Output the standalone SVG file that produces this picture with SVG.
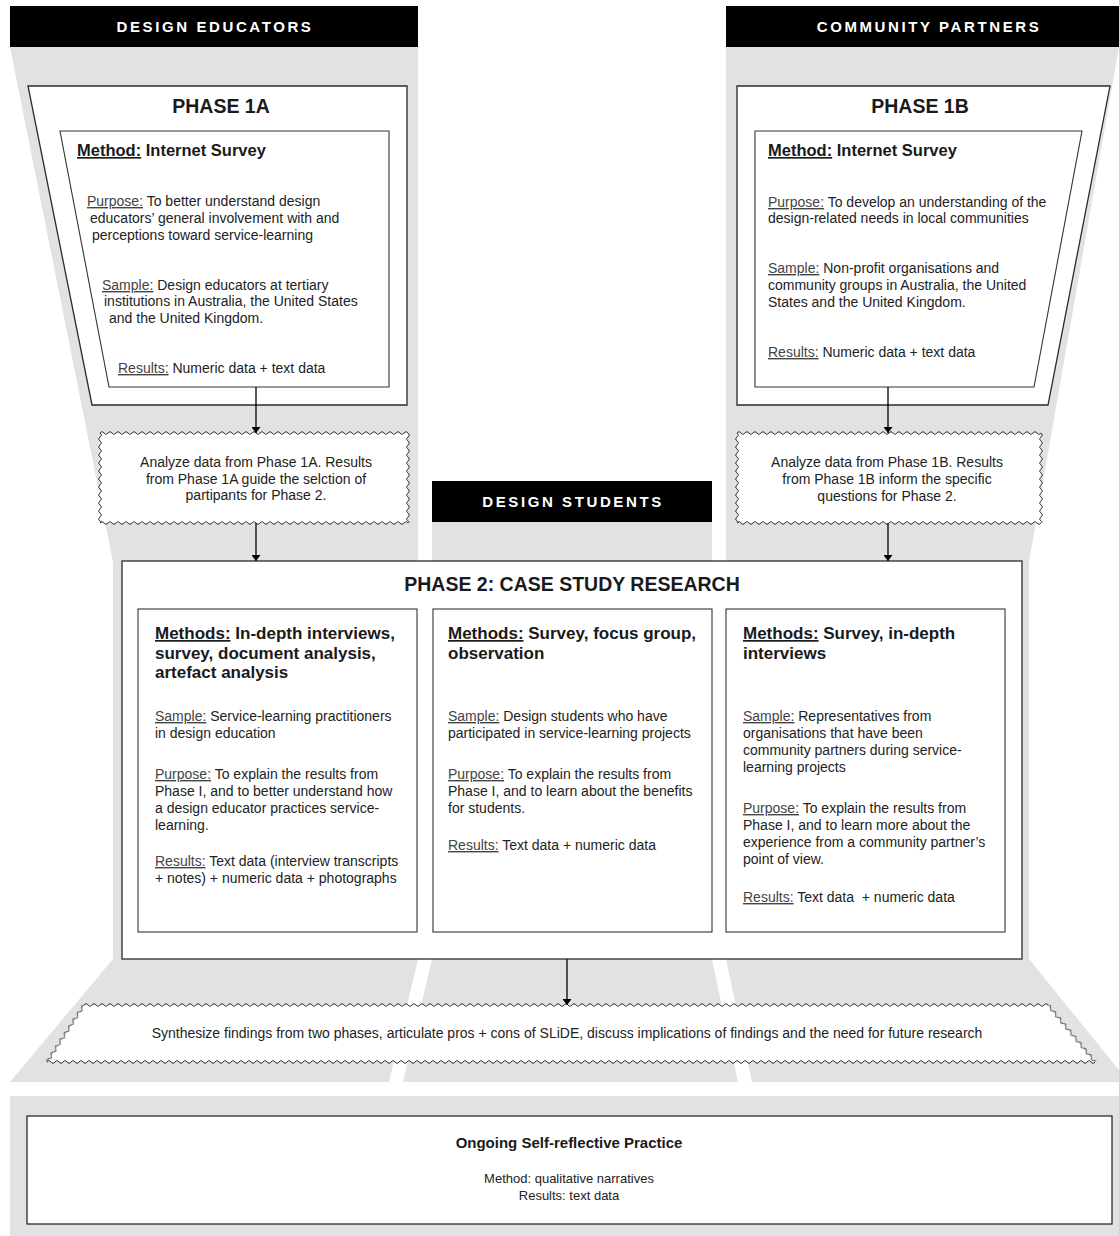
<svg xmlns="http://www.w3.org/2000/svg" width="1119" height="1236" viewBox="0 0 1119 1236">
  <style>
    text { font-family: "Liberation Sans", Arial, sans-serif; fill: #1a1a1a; }
    .lane { fill: #e1e2e4; }
    .bar { fill: #000; }
    .bartxt { font-size: 15px; font-weight: bold; fill: #fff; letter-spacing: 2.6px; text-anchor: middle; }
    .box { fill: #fff; stroke: #2a2a2a; stroke-width: 1.3; }
    .inner { fill: #fff; stroke: #333; stroke-width: 1.1; }
    .fill { fill: #fff; }
    .w { fill: none; stroke: url(#wave); stroke-width: 8; }
    .title { font-size: 19.5px; font-weight: bold; text-anchor: middle; }
    .head { font-size: 16.5px; font-weight: bold; }
    .head2 { font-size: 17px; font-weight: bold; }
    .body { font-size: 14px; fill: #222; }
    .mid { text-anchor: middle; }
    .lbl { text-decoration: underline; fill: #444; }
    .ul { text-decoration: underline; }
    .conn { stroke: #000; stroke-width: 1.3; fill: none; marker-end: url(#arrow); }
  </style>
  <defs>
    <marker id="arrow" viewBox="0 0 6 9" refX="6" refY="4.5" markerWidth="6" markerHeight="9" markerUnits="userSpaceOnUse" orient="auto">
      <path d="M0,0 L6,4.5 L0,9 z" fill="#000"/>
    </marker>
    <!-- one period of the scalloped outline, tiled along each edge -->
    <pattern id="wave" patternUnits="userSpaceOnUse" x="0" y="-4" width="8" height="8">
      <path d="M-4,4 Q-2,7 0,4 Q2,1 4,4 Q6,7 8,4 Q10,1 12,4" fill="none" stroke="#333" stroke-width="1"/>
    </pattern>
  </defs>

  <!-- stakeholder lanes -->
  <g id="lanes">
    <polygon class="lane" points="10,47 418,47 418,959 389,1082 10,1082 113,959 113,562"/>
    <polygon class="lane" points="432,522 712,522 712,959 738,1082 403,1082 432,959"/>
    <polygon class="lane" points="726,47 1119,47 1029,562 1029,959 1119,1070 1119,1082 752,1082 726,959"/>
    <rect class="lane" x="10" y="1096" width="1109" height="140"/>
  </g>

  <g id="educators-header">
    <rect class="bar" x="10" y="6" width="408" height="41"/>
    <text class="bartxt" x="215" y="31.5">DESIGN EDUCATORS</text>
  </g>
  <g id="partners-header">
    <rect class="bar" x="726" y="6" width="393" height="41"/>
    <text class="bartxt" x="929" y="31.5">COMMUNITY PARTNERS</text>
  </g>
  <g id="students-header">
    <rect class="bar" x="432" y="481" width="280" height="41"/>
    <text class="bartxt" x="573" y="506.5">DESIGN STUDENTS</text>
  </g>

  <!-- Phase 1A -->
  <g id="phase-1a">
    <polygon class="box" points="28,86 407,86 407,405 92,405"/>
    <text class="title" x="221" y="113">PHASE 1A</text>
    <polygon class="inner" points="60,131 389,131 389,387 109,387"/>
    <text class="head" x="77" y="156"><tspan class="ul">Method:</tspan> Internet Survey</text>
    <text class="body" x="87" y="206"><tspan class="lbl">Purpose:</tspan> To better understand design</text>
    <text class="body" x="90" y="223">educators’ general involvement with and</text>
    <text class="body" x="92" y="240">perceptions toward service-learning</text>
    <text class="body" x="102" y="290"><tspan class="lbl">Sample:</tspan> Design educators at tertiary</text>
    <text class="body" x="104" y="306">institutions in Australia, the United States</text>
    <text class="body" x="109" y="323">and the United Kingdom.</text>
    <text class="body" x="118" y="373"><tspan class="lbl">Results:</tspan> Numeric data + text data</text>
  </g>

  <!-- Phase 1B -->
  <g id="phase-1b">
    <polygon class="box" points="737,86 1110,86 1048,405 737,405"/>
    <text class="title" x="920" y="113">PHASE 1B</text>
    <polygon class="inner" points="755,131 1082,131 1034,387 755,387"/>
    <text class="head" x="768" y="156"><tspan class="ul">Method:</tspan> Internet Survey</text>
    <text class="body" x="768" y="207"><tspan class="lbl">Purpose:</tspan> To develop an understanding of the</text>
    <text class="body" x="768" y="223">design-related needs in local communities</text>
    <text class="body" x="768" y="273"><tspan class="lbl">Sample:</tspan> Non-profit organisations and</text>
    <text class="body" x="768" y="290">community groups in Australia, the United</text>
    <text class="body" x="768" y="307">States and the United Kingdom.</text>
    <text class="body" x="768" y="357"><tspan class="lbl">Results:</tspan> Numeric data + text data</text>
  </g>

  <!-- analysis of Phase 1A -->
  <g id="analyze-1a">
    <rect class="fill" x="100" y="433" width="308" height="90"/>
    <line class="w" transform="translate(100,433)" x2="308"/>
    <line class="w" transform="translate(100,523)" x2="308"/>
    <line class="w" transform="translate(100,433) rotate(90)" x2="90"/>
    <line class="w" transform="translate(408,433) rotate(90)" x2="90"/>
    <text class="body mid" x="256" y="467">Analyze data from Phase 1A. Results</text>
    <text class="body mid" x="256" y="484">from Phase 1A guide the selction of</text>
    <text class="body mid" x="256" y="500">partipants for Phase 2.</text>
  </g>

  <!-- analysis of Phase 1B -->
  <g id="analyze-1b">
    <rect class="fill" x="737" y="433" width="304" height="90"/>
    <line class="w" transform="translate(737,433)" x2="304"/>
    <line class="w" transform="translate(737,523)" x2="304"/>
    <line class="w" transform="translate(737,433) rotate(90)" x2="90"/>
    <line class="w" transform="translate(1041,433) rotate(90)" x2="90"/>
    <text class="body mid" x="887" y="467">Analyze data from Phase 1B. Results</text>
    <text class="body mid" x="887" y="484">from Phase 1B inform the specific</text>
    <text class="body mid" x="887" y="501">questions for Phase 2.</text>
  </g>

  <!-- Phase 2 -->
  <g id="phase-2">
    <rect class="box" x="122" y="561" width="900" height="398"/>
    <text class="title" x="572" y="591">PHASE 2: CASE STUDY RESEARCH</text>
  </g>

  <g id="phase-2-educators">
    <rect class="inner" x="138" y="609" width="279" height="323"/>
    <text class="head2" x="155" y="639"><tspan class="ul">Methods:</tspan> In-depth interviews,</text>
    <text class="head2" x="155" y="658.5">survey, document analysis,</text>
    <text class="head2" x="155" y="678">artefact analysis</text>
    <text class="body" x="155" y="721"><tspan class="lbl">Sample:</tspan> Service-learning practitioners</text>
    <text class="body" x="155" y="738">in design education</text>
    <text class="body" x="155" y="779"><tspan class="lbl">Purpose:</tspan> To explain the results from</text>
    <text class="body" x="155" y="796">Phase I, and to better understand how</text>
    <text class="body" x="155" y="813">a design educator practices service-</text>
    <text class="body" x="155" y="830">learning.</text>
    <text class="body" x="155" y="866"><tspan class="lbl">Results:</tspan> Text data (interview transcripts</text>
    <text class="body" x="155" y="883">+ notes) + numeric data + photographs</text>
  </g>

  <g id="phase-2-students">
    <rect class="inner" x="433" y="609" width="279" height="323"/>
    <text class="head2" x="448" y="639"><tspan class="ul">Methods:</tspan> Survey, focus group,</text>
    <text class="head2" x="448" y="658.5">observation</text>
    <text class="body" x="448" y="721"><tspan class="lbl">Sample:</tspan> Design students who have</text>
    <text class="body" x="448" y="738">participated in service-learning projects</text>
    <text class="body" x="448" y="779"><tspan class="lbl">Purpose:</tspan> To explain the results from</text>
    <text class="body" x="448" y="796">Phase I, and to learn about the benefits</text>
    <text class="body" x="448" y="813">for students.</text>
    <text class="body" x="448" y="850"><tspan class="lbl">Results:</tspan> Text data + numeric data</text>
  </g>

  <g id="phase-2-partners">
    <rect class="inner" x="726" y="609" width="279" height="323"/>
    <text class="head2" x="743" y="639"><tspan class="ul">Methods:</tspan> Survey, in-depth</text>
    <text class="head2" x="743" y="658.5">interviews</text>
    <text class="body" x="743" y="721"><tspan class="lbl">Sample:</tspan> Representatives from</text>
    <text class="body" x="743" y="738">organisations that have been</text>
    <text class="body" x="743" y="755">community partners during service-</text>
    <text class="body" x="743" y="772">learning projects</text>
    <text class="body" x="743" y="813"><tspan class="lbl">Purpose:</tspan> To explain the results from</text>
    <text class="body" x="743" y="830">Phase I, and to learn more about the</text>
    <text class="body" x="743" y="847">experience from a community partner’s</text>
    <text class="body" x="743" y="864">point of view.</text>
    <text class="body" x="743" y="902" style="white-space:pre"><tspan class="lbl">Results:</tspan> Text data  + numeric data</text>
  </g>

  <!-- synthesis -->
  <g id="synthesis">
    <polygon class="fill" points="84,1005 1048,1005 1095,1062 47,1062"/>
    <line class="w" transform="translate(84,1005)" x2="964"/>
    <line class="w" transform="translate(47,1062)" x2="1048"/>
    <line class="w" transform="translate(1048,1005) rotate(50.5)" x2="73.9"/>
    <line class="w" transform="translate(47,1062) rotate(-57)" x2="68"/>
    <text class="body mid" x="567" y="1038">Synthesize findings from two phases, articulate pros + cons of SLiDE, discuss implications of findings and the need for future research</text>
  </g>

  <!-- ongoing practice -->
  <g id="self-reflection">
    <rect class="box" x="27" y="1116" width="1085" height="108"/>
    <text class="mid" x="569" y="1148" style="font-size:15px;font-weight:bold">Ongoing Self-reflective Practice</text>
    <text class="body mid" x="569" y="1183" style="font-size:13px">Method: qualitative narratives</text>
    <text class="body mid" x="569" y="1200" style="font-size:13px">Results: text data</text>
  </g>

  <!-- connectors -->
  <g id="connectors">
    <line class="conn" x1="256" y1="387" x2="256" y2="433"/>
    <line class="conn" x1="256" y1="523" x2="256" y2="561"/>
    <line class="conn" x1="888" y1="387" x2="888" y2="433"/>
    <line class="conn" x1="888" y1="523" x2="888" y2="561"/>
    <line class="conn" x1="567" y1="959" x2="567" y2="1005"/>
  </g>
</svg>
